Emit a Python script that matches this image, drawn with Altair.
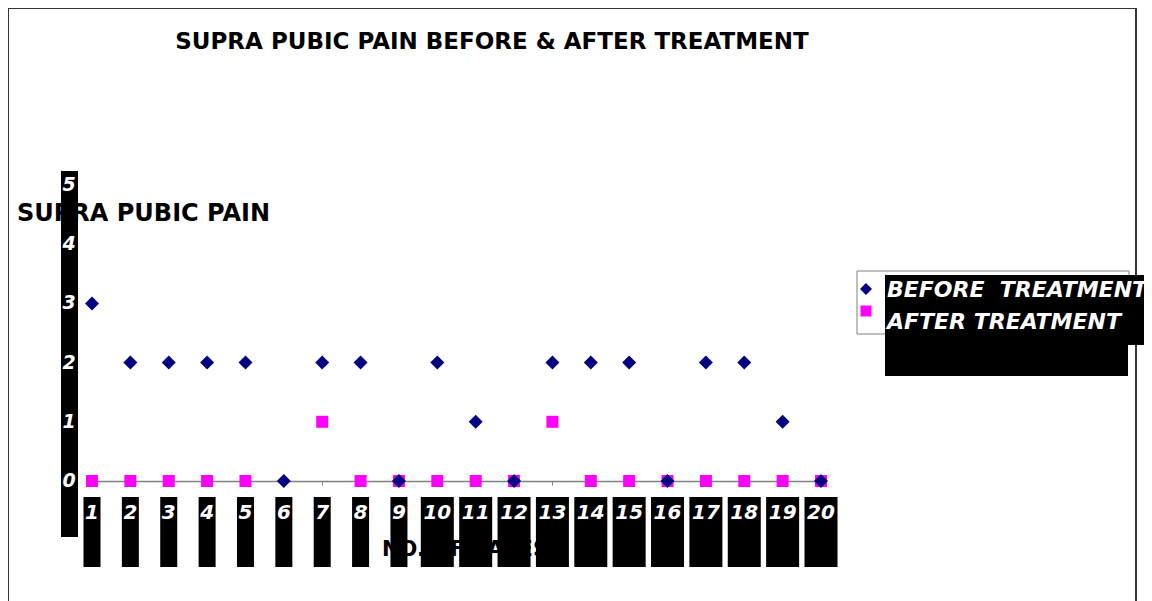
import altair as alt
import pandas as pd

cases = list(range(1, 21))
before = [3, 2, 2, 2, 2, 0, 2, 2, 0, 2, 1, 0, 2, 2, 2, 0, 2, 2, 1, 0]
after = [0, 0, 0, 0, 0, None, 1, 0, 0, 0, 0, 0, 1, 0, 0, 0, 0, 0, 0, 0]
y_ticks = [0, 1, 2, 3, 4, 5]
series_names = ["BEFORE\u00a0\u00a0TREATMENT", "AFTER TREATMENT"]
chart_title = "SUPRA PUBIC PAIN BEFORE & AFTER TREATMENT"
y_title = "SUPRA PUBIC PAIN"
x_title = "NO. OF CASES"

W, H = 729, 296
xs = alt.Scale(domain=[1, 20], nice=False, zero=False)
ys = alt.Scale(domain=[0, 5], nice=False)

df_b = pd.DataFrame({"case": cases, "v": before})
df_a = pd.DataFrame({"case": cases, "v": after}).dropna()
df_cases = pd.DataFrame({"case": cases, "lab": [str(c) for c in cases]})
df_y = pd.DataFrame({"t": y_ticks, "lab": [str(t) for t in y_ticks]})

def txt(s):
    return alt.Chart(pd.DataFrame({"t": [s]}))

border = txt("b").mark_rect(filled=False, stroke="#333333", strokeWidth=2).encode(
    x=alt.value(-84), x2=alt.value(1044), y=alt.value(-177), y2=alt.value(700))

title = txt(chart_title).mark_text(font="DejaVu Sans", fontWeight="bold", fontSize=23,
                                   align="center", baseline="middle", color="black").encode(
    x=alt.value(400), y=alt.value(-143), text="t:N")

ytitle = txt(y_title).mark_text(font="DejaVu Sans", fontWeight="bold", fontSize=24,
                                align="left", baseline="middle", color="black").encode(
    x=alt.value(-75), y=alt.value(29), text="t:N")

ybox = txt("b").mark_rect(fill="black").encode(
    x=alt.value(-31), x2=alt.value(-14), y=alt.value(-14), y2=alt.value(352))

ylabels = alt.Chart(df_y).mark_text(font="DejaVu Sans", fontWeight="bold", fontStyle="italic",
                                    fontSize=19, color="white", align="center", baseline="middle").encode(
    x=alt.value(-23), y=alt.Y("t:Q", scale=ys, axis=None), text="lab:N")

xtitle = txt(x_title).mark_text(font="DejaVu Sans", fontWeight="bold", fontSize=21,
                                align="center", baseline="middle", color="black").encode(
    x=alt.value(373), y=alt.value(365), text="t:N")

xbox1 = alt.Chart(df_cases).transform_filter("datum.case < 10").mark_rect(fill="black", width=17).encode(
    x=alt.X("case:Q", scale=xs), y=alt.value(312), y2=alt.value(382))
xbox2 = alt.Chart(df_cases).transform_filter("datum.case >= 10").mark_rect(fill="black", width=33).encode(
    x=alt.X("case:Q", scale=xs), y=alt.value(312), y2=alt.value(382))

xlabels = alt.Chart(df_cases).mark_text(font="DejaVu Sans", fontWeight="bold", fontStyle="italic",
                                        fontSize=20, color="white", align="center", baseline="middle").encode(
    x=alt.X("case:Q", scale=xs), y=alt.value(328), text="lab:N")

axis_layer = alt.Chart(df_cases).mark_point(opacity=0).encode(
    x=alt.X("case:Q", scale=xs,
            axis=alt.Axis(values=cases, labels=False, title=None, grid=False, domainColor="#808080",
                          tickColor="#808080", tickSize=4, domainWidth=1.5)),
    y=alt.Y("case:Q", scale=ys, axis=None))

sq = alt.Chart(df_a).mark_point(shape="square", filled=True, size=144, color="#FF00FF", opacity=1).encode(
    x=alt.X("case:Q", scale=xs), y=alt.Y("v:Q", scale=ys, axis=None))
dm = alt.Chart(df_b).mark_point(shape="diamond", filled=True, size=196, color="#000080", opacity=1).encode(
    x=alt.X("case:Q", scale=xs), y=alt.Y("v:Q", scale=ys, axis=None))

# legend
lbox = txt("b").mark_rect(fill="white", stroke="#808080", strokeWidth=1).encode(
    x=alt.value(765), x2=alt.value(1037), y=alt.value(86), y2=alt.value(149))
lblack1 = txt("b").mark_rect(fill="black").encode(
    x=alt.value(793), x2=alt.value(1060), y=alt.value(90), y2=alt.value(160))
lblack2 = txt("b").mark_rect(fill="black").encode(
    x=alt.value(793), x2=alt.value(1036), y=alt.value(159), y2=alt.value(191))
df_leg = pd.DataFrame({"name": series_names, "ty": [105, 137]})
lsym_d = alt.Chart(df_leg.iloc[[0]]).mark_point(shape="diamond", filled=True, size=144, color="#000080", opacity=1).encode(
    x=alt.value(774), y=alt.value(104))
lsym_s = alt.Chart(df_leg.iloc[[1]]).mark_point(shape="square", filled=True, size=121, color="#FF00FF", opacity=1).encode(
    x=alt.value(774), y=alt.value(126))
ltext = alt.Chart(df_leg).mark_text(font="DejaVu Sans", fontWeight="bold", fontStyle="italic", fontSize=22,
                                    color="white", align="left", baseline="middle").encode(
    x=alt.value(795), y=alt.Y("ty:Q", scale=None), text="name:N")

chart = alt.layer(border, title, ytitle, ybox, ylabels, xtitle, axis_layer, xbox1, xbox2, xlabels,
                  sq, dm, lbox, lblack1, lblack2, lsym_d, lsym_s, ltext).properties(
    width=W, height=H,
    autosize=alt.AutoSizeParams(type="none"),
    padding={"left": 84, "top": 177, "right": 323, "bottom": 120},
).configure(background="white").configure_view(strokeWidth=0, strokeOpacity=0)

chart.save("out.html", embed_options={"renderer": "svg", "actions": False})
